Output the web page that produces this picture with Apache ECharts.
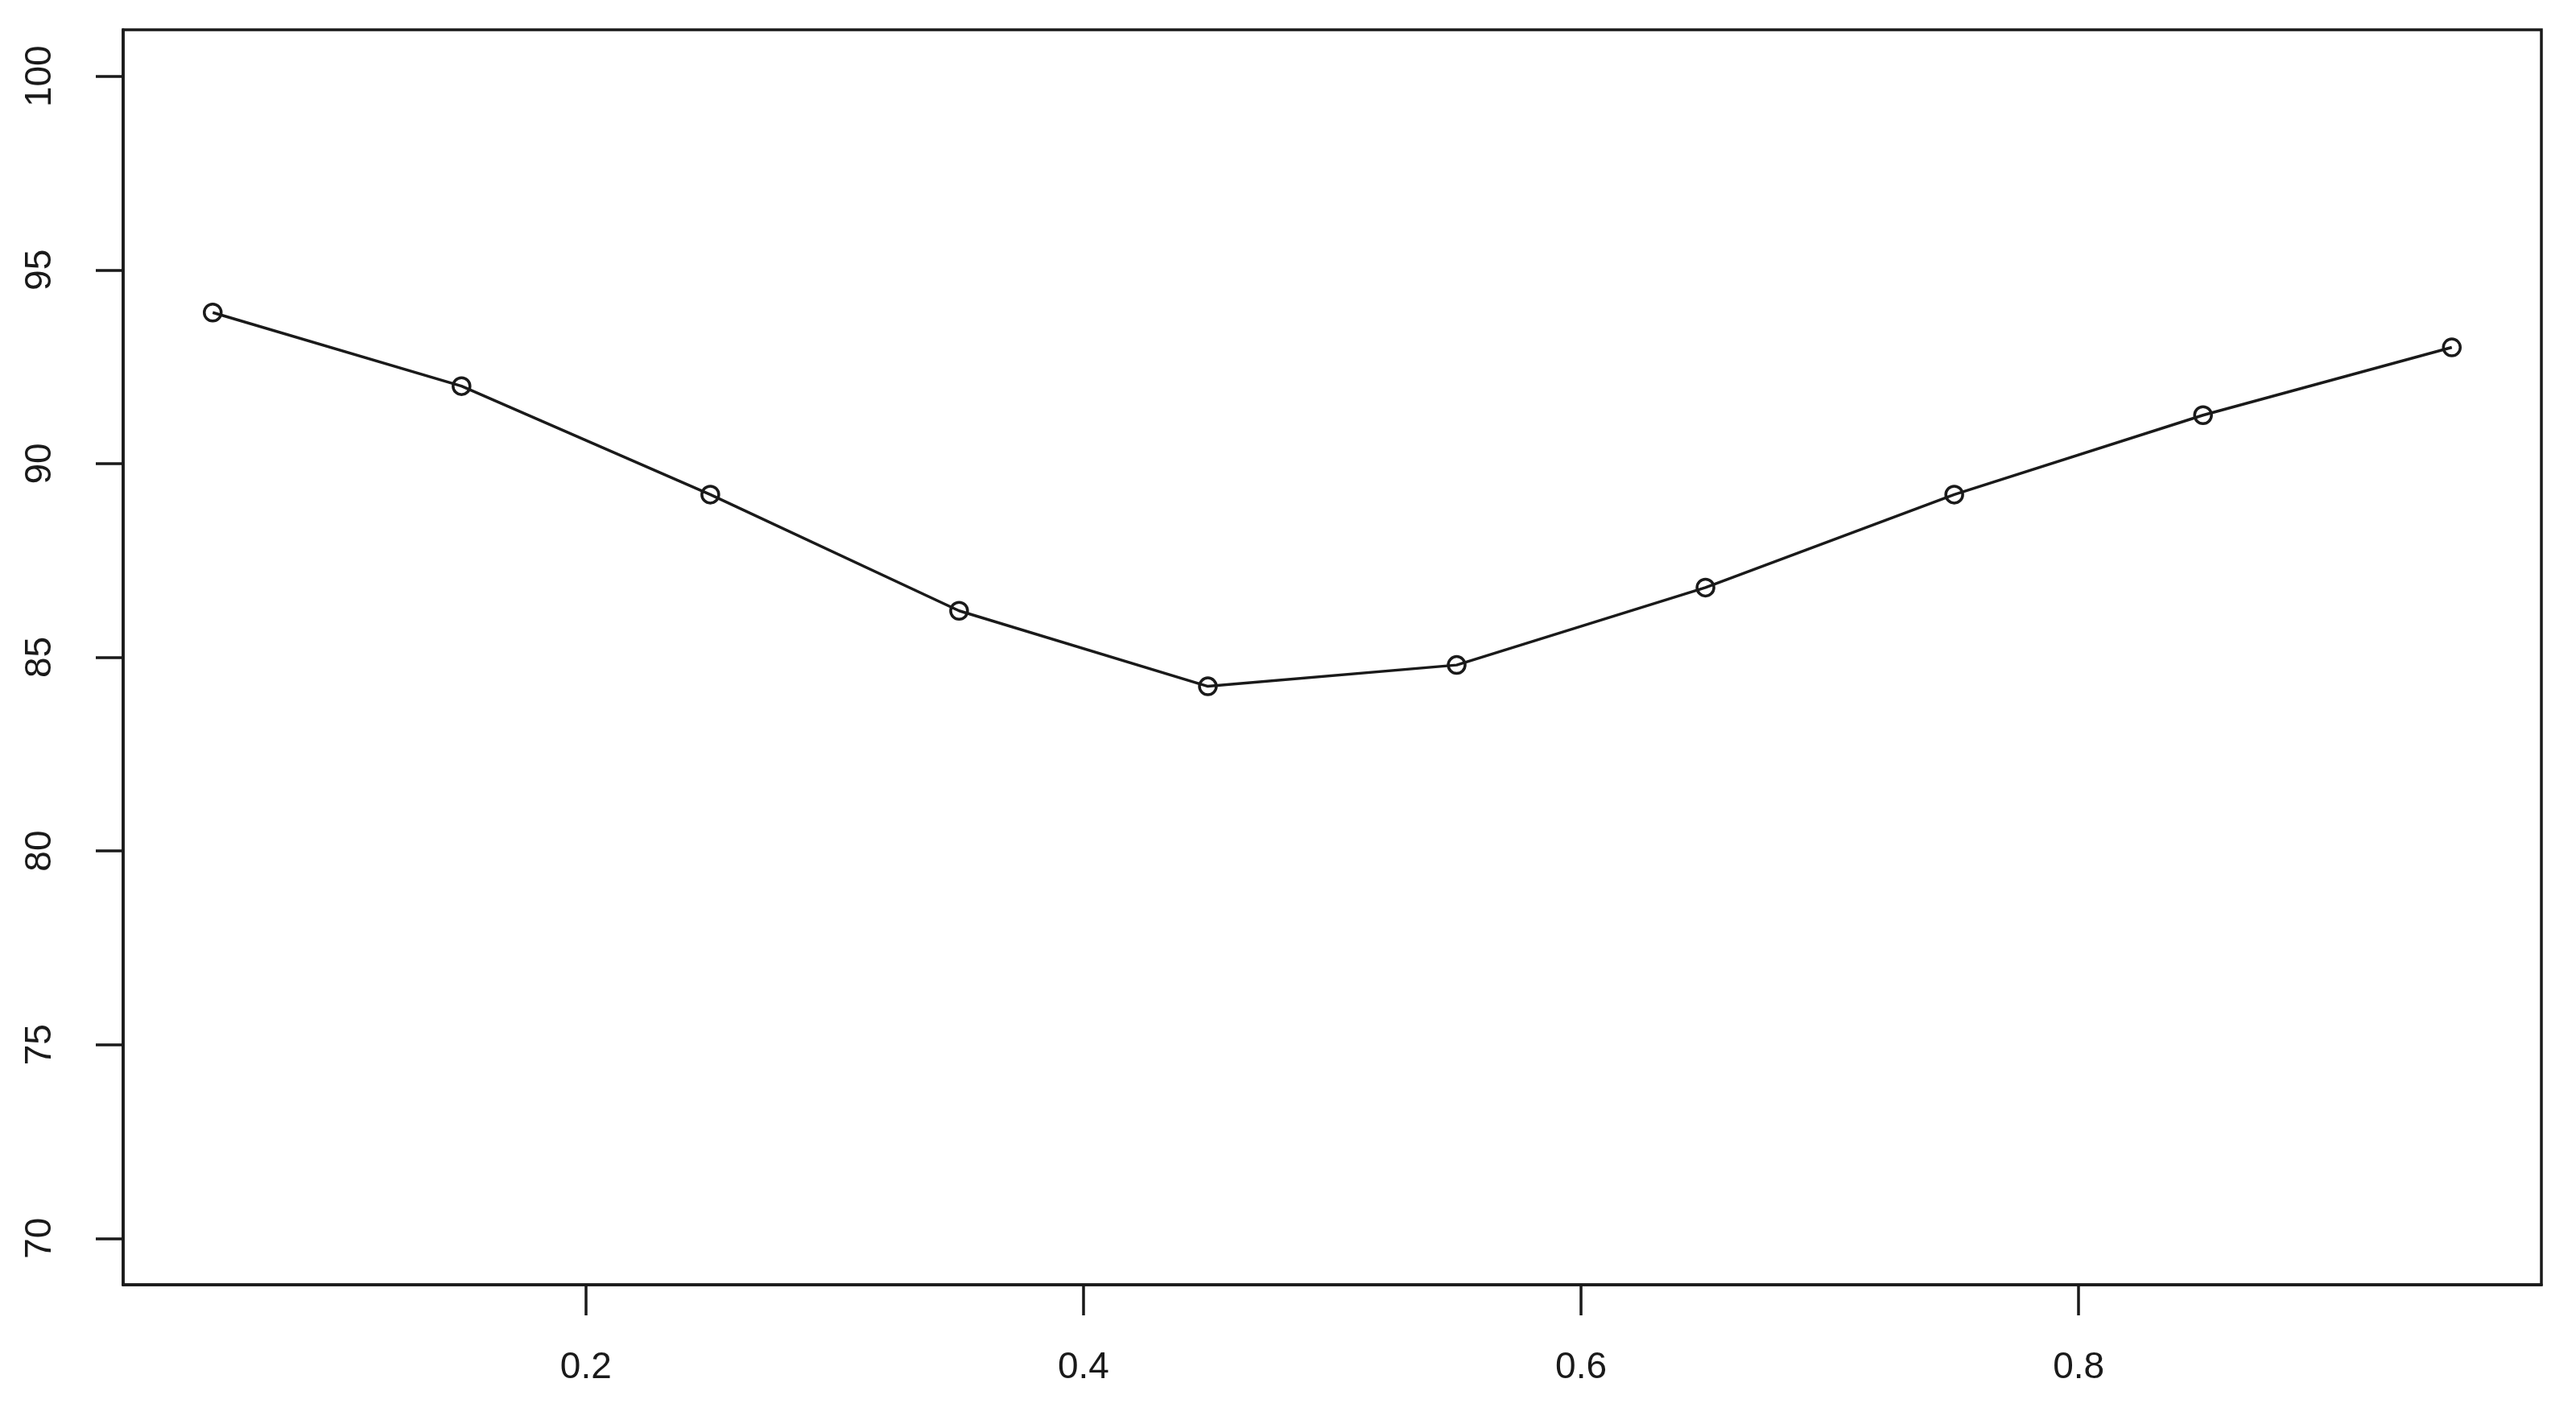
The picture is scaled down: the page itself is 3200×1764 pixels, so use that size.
<!DOCTYPE html>
<html>
<head>
<meta charset="utf-8">
<script src="https://cdn.jsdelivr.net/npm/echarts@6/dist/echarts.min.js"></script>
<style>
  html, body { margin: 0; padding: 0; background: #fff; }
  #chart { width: 3200px; height: 1764px; }
</style>
</head>
<body>
<div id="chart"></div>
<script>
var xValues = [0.05, 0.15, 0.25, 0.35, 0.45, 0.55, 0.65, 0.75, 0.85, 0.95];
var yValues = [93.9, 92.0, 89.2, 86.2, 84.25, 84.8, 86.8, 89.2, 91.25, 93.0];
var xTicks = [0.2, 0.4, 0.6, 0.8];
var yTicks = [70, 75, 80, 85, 90, 95, 100];

var chart = echarts.init(document.getElementById('chart'));

var points = xValues.map(function (x, i) { return [x, yValues[i]]; });

var option = {
  animation: false,
  backgroundColor: '#fff',
  grid: {
    left: 153, right: 43, top: 37, bottom: 168,
    show: true, borderColor: '#1a1a1a', borderWidth: 3.5, backgroundColor: 'transparent'
  },
  xAxis: {
    type: 'value',
    min: 0.014, max: 0.986,
    splitLine: { show: false },
    axisLine: { show: true, onZero: false, lineStyle: { color: '#1a1a1a', width: 3.5 } },
    axisTick: { show: true, customValues: xTicks, length: 38, lineStyle: { color: '#1a1a1a', width: 3.5 } },
    axisLabel: {
      customValues: xTicks, margin: 80,
      fontFamily: 'Liberation Sans, Arial, sans-serif', fontSize: 46, color: '#1a1a1a',
      formatter: function (v) { return String(v); }
    }
  },
  yAxis: {
    type: 'value',
    min: 68.8, max: 101.2,
    splitLine: { show: false },
    axisLine: { show: true, onZero: false, lineStyle: { color: '#1a1a1a', width: 3.5 } },
    axisTick: { show: true, customValues: yTicks, length: 34, lineStyle: { color: '#1a1a1a', width: 3.5 } },
    axisLabel: {
      customValues: yTicks, margin: 80, rotate: 90,
      fontFamily: 'Liberation Sans, Arial, sans-serif', fontSize: 46, color: '#1a1a1a'
    }
  },
  series: [{
    type: 'line',
    data: points,
    symbol: 'circle',
    symbolSize: 21,
    lineStyle: { color: '#1a1a1a', width: 3.5 },
    itemStyle: { color: 'rgba(0,0,0,0)', borderColor: '#1a1a1a', borderWidth: 3.5 }
  }]
};

chart.setOption(option);
</script>
</body>
</html>
